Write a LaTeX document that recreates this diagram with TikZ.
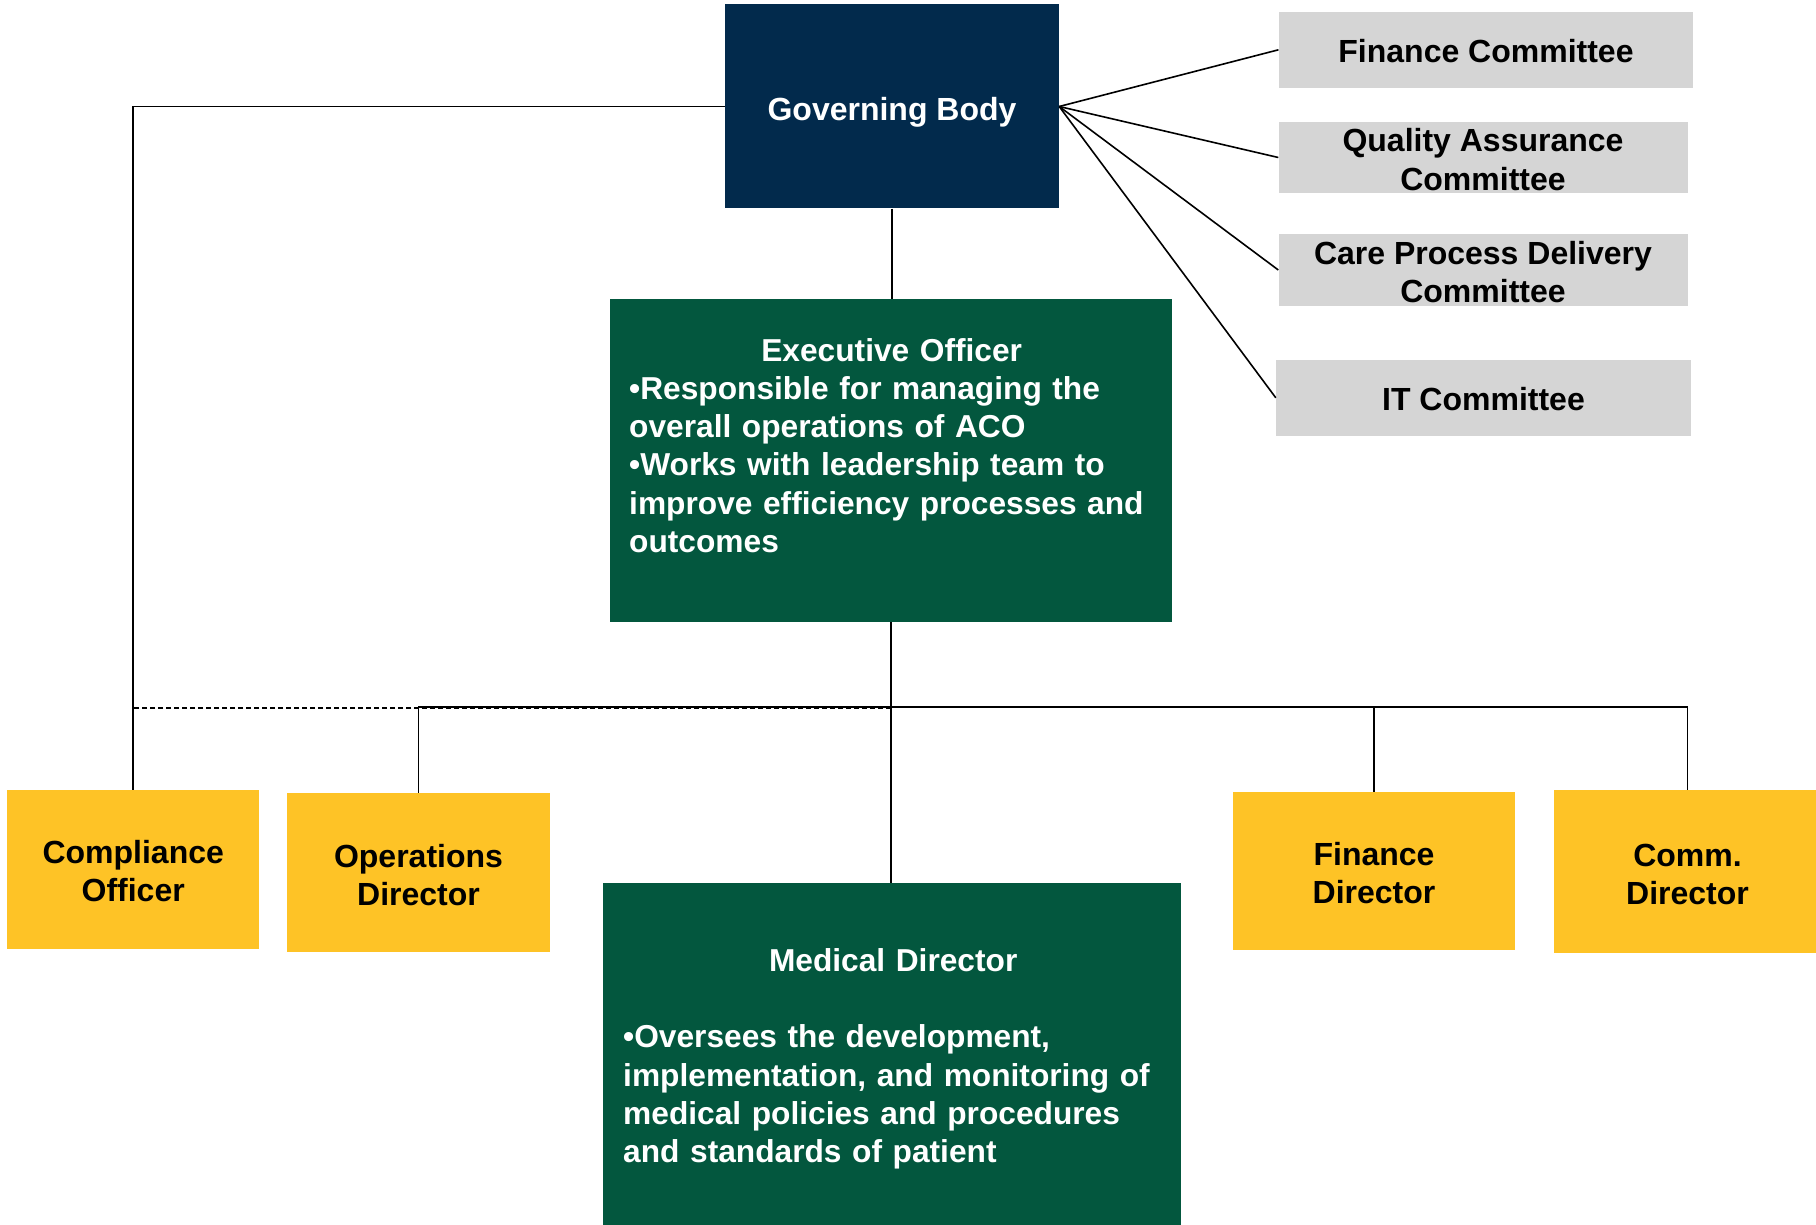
\documentclass[tikz,border=0pt]{standalone}
\usepackage{fontspec}
\setmainfont{Liberation Sans}
\definecolor{navy}{HTML}{022A4C}
\definecolor{pine}{HTML}{03573E}
\definecolor{gold}{HTML}{FEC326}
\definecolor{silver}{HTML}{D5D5D5}
% invisible strut that sets a label block a little lower in its box
\newcommand\capstrut{\rule{0pt}{27.5pt}}
\begin{document}
\begin{tikzpicture}[x=1pt,y=-1pt,
  lbl/.style={inner sep=0pt,align=center,font=\bfseries\fontsize{32}{38.2}\selectfont},
  board/.style={lbl,fill=navy,text=white,text height=27.5pt,text depth=0pt},
  oneline/.style={text height=25.5pt,text depth=0pt},
  cmte/.style={lbl,fill=silver,text=black},
  role/.style={lbl,fill=gold,text=black},
  exbox/.style={lbl,fill=pine},
  bodytext/.style={inner sep=0pt,text=white,align=left,anchor=north west,
    font=\bfseries\fontsize{31.7}{38.2}\selectfont},
  conn/.style={line width=1.6pt,draw=black},
  dotted link/.style={line width=1.6pt,draw=black,dash pattern=on 5pt off 3pt}]
\useasboundingbox (0,0) rectangle (1816,1225);

% governing body and its committees
\node[board,minimum width=334pt,minimum height=204pt] (gov) at (892,106.5) {Governing Body};
\node[cmte,oneline,minimum width=414.7pt,minimum height=76.4pt] (fc) at (1486,49.8) {Finance Committee};
\node[cmte,minimum width=409pt,minimum height=71.8pt] (qa) at (1483,157.5) {\capstrut Quality Assurance\\Committee};
\node[cmte,minimum width=409pt,minimum height=72pt] (cp) at (1483,270) {\capstrut Care Process Delivery\\Committee};
\node[cmte,oneline,minimum width=415pt,minimum height=75.5pt] (it) at (1483.5,397.8) {IT Committee};

% executive officer
\node[exbox,minimum width=561.6pt,minimum height=323.2pt] (exec) at (891.2,460.4) {};
\node[bodytext,text width=525pt] (exectxt) at (629,338.2) {%
  {\centering Executive Officer\par}%
  \raggedright
  •Responsible for managing the\\
  overall operations of ACO\\
  •Works with leadership team to\\
  improve efficiency processes and\\
  outcomes};

% medical director
\node[exbox,minimum width=578pt,minimum height=345pt,anchor=north] (med) at (892.4,882.5) {};
\node[bodytext,text width=540pt] (medtxt) at (623,948.3) {%
  {\centering Medical Director\par}%
  \vspace*{38.2pt}%
  \raggedright
  •Oversees the development,\\
  implementation, and monitoring of\\
  medical policies and procedures\\
  and standards of patient};

% direct reports
\node[role,minimum width=252.4pt,minimum height=158.6pt] (co) at (133.2,869.3) {\capstrut Compliance\\Officer};
\node[role,minimum width=263pt,minimum height=159pt] (od) at (418.5,872.5) {\capstrut Operations\\Director};
\node[role,minimum width=281.5pt,minimum height=157.7pt] (fd) at (1374,871) {\capstrut Finance\\Director};
\node[role,minimum width=267pt,minimum height=163pt] (cd) at (1687.5,871.5) {\capstrut Comm.\\Director};

\coordinate (bus) at (891.2,707.7);

% connectors
\draw[conn] (gov.east) -- (fc.west);
\draw[conn] (gov.east) -- (qa.west);
\draw[conn] (gov.east) -- (cp.west);
\draw[conn] (gov.east) -- (it.west);
\draw[conn] (gov.south) -- (gov.south |- exec.north);
\draw[conn] (gov.west) -| (co.north);
\draw[conn] (exec.south) -- (exec.south |- med.north);
\draw[conn] (od.north) |- ([yshift=1pt]cd.north |- bus) -- (cd.north);
\draw[conn] (fd.north) -- ([yshift=1pt]fd.north |- bus);
\draw[dotted link] ([yshift=-0.5pt]bus) -| (co.north);
\end{tikzpicture}
\end{document}
